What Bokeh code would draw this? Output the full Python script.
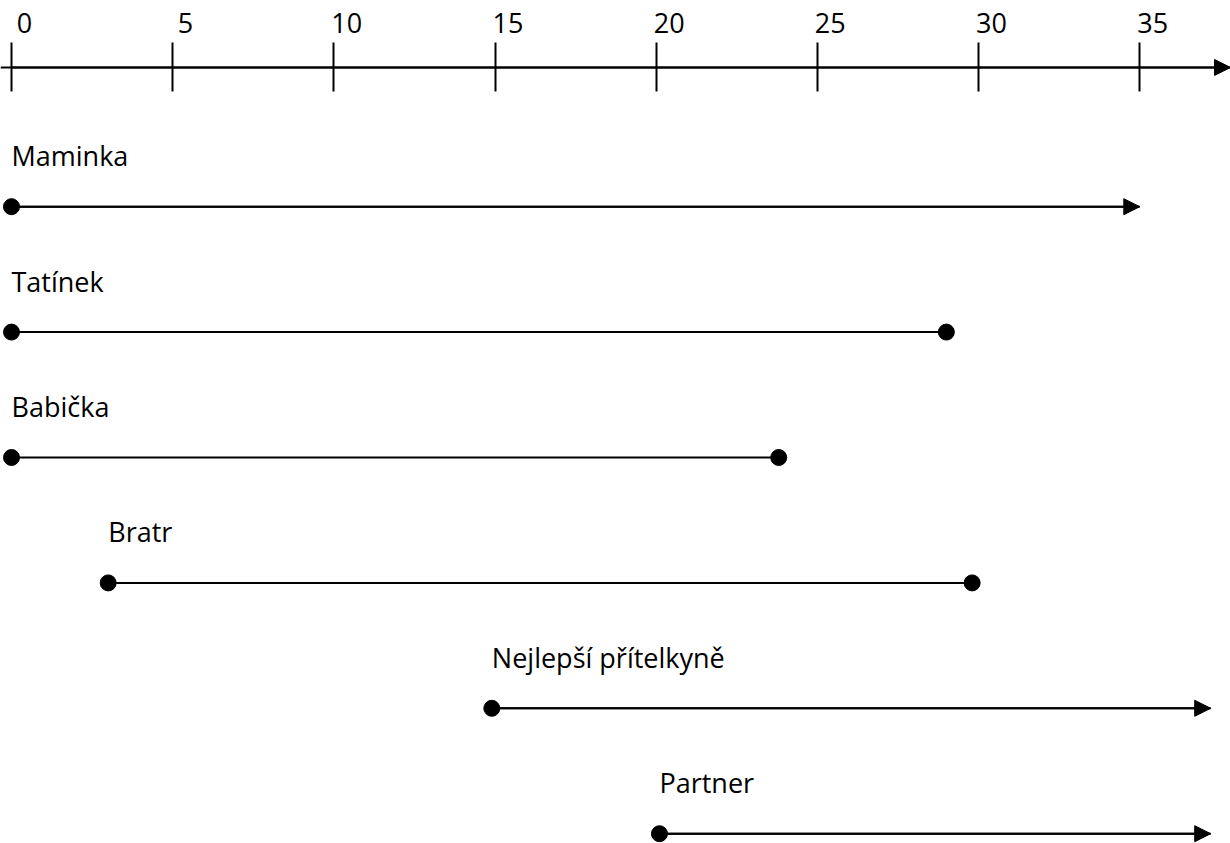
from bokeh.plotting import figure
from bokeh.models import (ColumnDataSource, Range1d, FixedTicker, Arrow, NormalHead,
                          LinearAxis)
from bokeh.core.properties import value
from bokeh.embed import file_html
from bokeh.resources import INLINE

# ---- data (years) ----
names = ["Maminka", "Tatínek", "Babička", "Bratr", "Nejlepší přítelkyně", "Partner"]
starts = [0, 0, 0, 3, 14.9, 20.1]
ends = [35, 29, 23.8, 29.8, 37.2, 37.2]
ongoing = [True, False, False, False, True, True]
tick_values = [0, 5, 10, 15, 20, 25, 30, 35]

FONT = "Open Sans"
FS = "27px"
rows = list(range(len(names)))

src = ColumnDataSource(dict(name=names, start=starts, end=ends, row=rows))
src_dot = ColumnDataSource(dict(
    end=[e for e, o in zip(ends, ongoing) if not o],
    row=[r for r, o in zip(rows, ongoing) if not o]))
src_arr = ColumnDataSource(dict(
    start=[s for s, o in zip(starts, ongoing) if o],
    end=[e for e, o in zip(ends, ongoing) if o],
    row=[r for r, o in zip(rows, ongoing) if o]))

# ---- layout ----
X0, X1 = -0.3412, 37.814
Y_TOP, Y_BOTTOM = -1.644, 5.078
AXIS_AT = -1.110          # the time axis sits above the first row
LABEL_SHIFT = 0.40        # tick labels sit to the right of their tick

p = figure(width=1230, height=843, output_backend="svg", toolbar_location=None,
           x_range=Range1d(X0, X1), y_range=Range1d(Y_BOTTOM, Y_TOP),
           x_axis_location="above", y_axis_location=None,
           min_border_left=0, min_border_right=0, min_border_bottom=0,
           min_border_top=0)
p.grid.visible = False
p.outline_line_color = None
p.background_fill_color = "white"
p.border_fill_color = "white"

# axis with ticks and line (labels drawn by a second axis)
ax = p.xaxis[0]
ax.fixed_location = AXIS_AT
ax.ticker = FixedTicker(ticks=tick_values)
ax.major_tick_in = 24
ax.major_tick_out = 25
ax.major_tick_line_width = 2
ax.major_tick_line_color = "black"
ax.minor_tick_line_color = None
ax.axis_line_width = 2
ax.axis_line_color = "black"
ax.major_label_text_color = None
ax.major_label_standoff = 0

# label axis, left-aligned look
p.extra_x_ranges = {"lab": Range1d(X0 - LABEL_SHIFT, X1 - LABEL_SHIFT)}
lab = LinearAxis(x_range_name="lab", ticker=FixedTicker(ticks=tick_values),
                 fixed_location=AXIS_AT,
                 major_tick_in=0, major_tick_out=0, minor_tick_line_color=None,
                 major_tick_line_color=None, axis_line_color=None,
                 major_label_text_font=FONT, major_label_text_font_size=FS,
                 major_label_text_color="black", major_label_standoff=34)
p.add_layout(lab, "above")

# axis arrow head
p.add_layout(Arrow(end=NormalHead(size=16, fill_color="black", line_color="black"),
                   x_start=0, y_start=AXIS_AT, x_end=X1,
                   y_end=AXIS_AT, line_width=2, line_color="black"))

# relationship lines
p.segment(x0="start", y0="row", x1="end", y1="row", source=src,
          line_width=2, line_color="black")
p.scatter(x="start", y="row", source=src, size=16, color="black")
p.scatter(x="end", y="row", source=src_dot, size=16, color="black")
p.add_layout(Arrow(end=NormalHead(size=16, fill_color="black", line_color="black"),
                   x_start="start", y_start="row", x_end="end", y_end="row",
                   source=src_arr, line_width=2, line_color="black"))

p.text(x="start", y="row", text="name", source=src, y_offset=-51,
       text_font=value(FONT), text_font_size=FS, text_color="black",
       text_align="left", text_baseline="alphabetic")

open("out.html", "w").write(file_html(p, INLINE))
